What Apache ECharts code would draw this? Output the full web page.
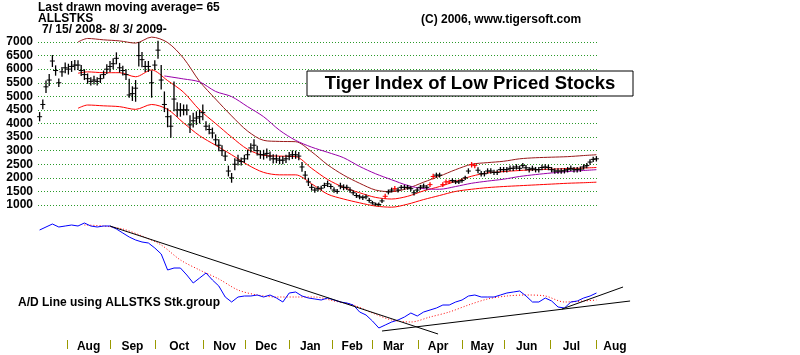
<!DOCTYPE html>
<html><head><meta charset="utf-8">
<script src="https://cdn.jsdelivr.net/npm/echarts@6/dist/echarts.min.js"></script>
<style>html,body{margin:0;padding:0;background:#fff;}#c{width:800px;height:355px;}</style>
</head><body><div id="c"></div>
<script>
// ---- data (bar index 0..174, ~1.5 trading days per bar, 7/15/2008 - 8/3/2009) ----
const priceHigh = [4420,4880,5580,5820,6520,6140,5660,6080,6250,6200,6300,6340,6330,6150,6000,5840,5700,5760,5700,5810,
5950,6180,6300,6400,6620,6230,6130,6000,5650,5370,5600,7000,6630,6300,6300,5950,6330,7050,6150,5180,
4560,4300,5550,4780,4750,4700,4700,4300,4400,4450,4500,4700,4080,3960,3850,3600,3420,3200,2980,2450,
2180,2720,2850,2750,2850,3030,3270,3420,3180,3000,3030,3080,2970,2870,2860,2800,2800,2850,2950,3010,
3000,2950,2580,2250,2000,1770,1650,1700,1710,1820,1900,1780,1650,1590,1820,1760,1750,1650,1540,1440,
1390,1360,1390,1260,1150,1090,1090,1230,1410,1570,1640,1700,1640,1740,1740,1740,1690,1550,1640,1740,
1790,1740,1840,2150,2190,2190,1840,1940,1930,1980,1930,1930,1980,2080,2350,2580,2550,2390,2250,2250,
2350,2350,2300,2300,2400,2400,2400,2450,2450,2500,2450,2550,2470,2400,2450,2400,2400,2480,2500,2480,
2400,2350,2350,2350,2360,2400,2450,2400,2400,2420,2500,2550,2680,2780,2800];
const priceLow = [4080,4520,5120,5380,6080,5760,5340,5720,5850,5800,5900,5960,5970,5750,5600,5460,5400,5440,5400,5490,
5650,5820,5900,6000,6180,5870,5770,5600,4950,4830,4800,6100,6070,5900,5900,4950,5970,6380,5250,4420,
3860,3480,4450,4250,4250,4300,4300,3650,3850,3950,4000,4120,3740,3600,3450,3200,2980,2800,2620,2050,
1820,2280,2450,2450,2550,2670,2930,2980,2820,2700,2670,2720,2630,2530,2540,2500,2500,2550,2650,2690,
2700,2650,2220,1950,1700,1530,1450,1500,1530,1620,1660,1580,1450,1410,1580,1540,1550,1450,1360,1260,
1210,1180,1210,1080,1010,970,950,1070,1230,1390,1460,1500,1460,1560,1560,1560,1510,1350,1460,1560,
1610,1560,1660,1950,2010,2010,1660,1760,1770,1820,1770,1770,1820,1920,2150,2380,2350,2170,2050,2050,
2150,2150,2100,2100,2200,2200,2200,2250,2250,2300,2250,2350,2270,2200,2250,2200,2200,2280,2300,2280,
2200,2150,2150,2150,2160,2200,2250,2200,2200,2220,2300,2350,2480,2580,2600];
const priceClose = [4250,4700,5350,5600,6300,5950,5500,5900,6050,6000,6100,6150,6150,5950,5800,5650,5550,5600,5550,5650,
5800,6000,6100,6200,6400,6050,5950,5800,5050,5100,5300,6500,6350,6100,6100,5500,6150,6700,5600,4700,
4250,3900,4900,4500,4500,4500,4500,3950,4100,4200,4250,4400,3900,3780,3650,3400,3200,3000,2800,2250,
2000,2500,2650,2600,2700,2850,3100,3200,3000,2850,2850,2900,2800,2700,2700,2650,2650,2700,2800,2850,
2850,2800,2400,2100,1850,1650,1550,1600,1620,1720,1780,1680,1550,1500,1700,1650,1650,1550,1450,1350,
1300,1270,1300,1170,1080,1030,1020,1150,1320,1480,1550,1600,1550,1650,1650,1650,1600,1450,1550,1650,
1700,1650,1750,2050,2100,2100,1750,1850,1850,1900,1850,1850,1900,2000,2250,2480,2450,2280,2150,2150,
2250,2250,2200,2200,2300,2300,2300,2350,2350,2400,2350,2450,2370,2300,2350,2300,2300,2380,2400,2380,
2300,2250,2250,2250,2260,2300,2350,2300,2300,2320,2400,2450,2580,2680,2700];
const redBars = [108,111,122,123,126,127,128,135,136];

const maIdx     = [12,15,20,25,30,35,40,45,50,55,60,65,70,75,80,85,90,95,100,105,110,115,120,125,130,135,140,145,150,155,160,165,170,174];
const ma21      = [5850,5900,5870,5870,5720,5970,5580,5150,4500,4000,3500,3050,2830,2800,2780,2350,1940,1650,1450,1280,1220,1320,1520,1680,1870,2060,2180,2230,2270,2300,2320,2340,2360,2380];
const bandUpper = [7000,7130,7080,7040,6960,7180,6980,6400,5550,4900,4280,3720,3380,3340,3330,2960,2480,2100,1800,1550,1490,1610,1840,2060,2300,2500,2560,2610,2700,2740,2760,2780,2820,2850];
const bandLower = [4560,4680,4650,4620,4520,4700,4520,4020,3550,3200,2850,2480,2200,2110,2110,1780,1400,1220,1080,960,920,1030,1200,1350,1500,1580,1640,1680,1710,1740,1770,1800,1820,1840];
const ma65Idx   = [39,45,50,55,60,65,70,75,80,85,90,95,100,105,110,115,120,125,130,135,140,145,150,155,160,165,170,174];
const ma65      = [5750,5640,5530,5180,4990,4620,4250,3750,3380,3130,2940,2740,2420,2150,1930,1720,1600,1580,1680,1800,1880,1950,2050,2120,2180,2230,2270,2300];

// A/D line (arbitrary units), one value every 2 bars
const adLine = [110,113,116,113,114,115,114,117,114,113,114,114,111,107,103,100,98,97,92,86,
70,72,72,65,57,62,67,60,54,43,38,43,44,44,45,43,45,42,38,47,
48,44,42,41,40,42,40,38,37,35,28,25,19,12,15,18,20,23,27,24,
28,30,32,35,35,38,40,44,45,43,43,43,45,47,48,49,44,38,38,42,
39,33,32,38,39,42,44,47];
const adMaIdx = [14,20,26,32,38,44,50,56,62,68,74,80,86,92,98,104,110,116,122,128,134,140,146,152,158,164,170,174];
const adMa    = [115,114,111,104,95,80,70,61,50,45,43,43,43,39,35,27,20,18,23,28,35,41,44,45,44,38,39,40];
const trendLines = [
  [[22,114],[124.5,6]],
  [[107,9],[184.5,39]],
  [[163.2,31],[182.3,53]]
];

const yTickMin = 1000, yTickMax = 7000, yTickStep = 500;
const monthTickIdx   = [8.56,22,36.06,51.06,64.2,77.9,91.4,103.9,118.2,132,145.1,159.5,173.9];
const monthLabelIdx  = [15.3,29,43.6,57.8,70.8,84.6,97.7,110.6,124.5,138.3,152.2,166.2,179.8];
const monthNames     = ['Aug','Sep','Oct','Nov','Dec','Jan','Feb','Mar','Apr','May','Jun','Jul','Aug'];

const FONT = '"Liberation Sans", Arial, sans-serif';
const chart = echarts.init(document.getElementById('c'), null, {renderer:'canvas'});
const redSet = new Set(redBars);

const lineSeries = (idx, vals, color, extra) => Object.assign({
  type:'line', xAxisIndex:0, yAxisIndex:0, showSymbol:false, smooth:0.3, clip:false,
  data: idx.map((x,i)=>[x, vals[i]]),
  lineStyle:{color, width:1}, itemStyle:{color}, z:3, silent:true
}, extra||{});

chart.setOption({
  animation:false,
  backgroundColor:'#fff',
  grid:[
    {left:38, width:560, top:42, height:163},
    {left:38, width:602, top:220, height:120}
  ],
  xAxis:[
    {gridIndex:0, type:'value', min:-0.5, max:174.5, show:false},
    {gridIndex:1, type:'value', min:-0.5, max:187.6,
     axisLine:{show:false}, splitLine:{show:false},
     axisTick:{show:true, customValues:monthTickIdx, length:9, lineStyle:{color:'#9a9a00', width:1}},
     axisLabel:{show:true, customValues:monthLabelIdx, margin:1,
       color:'#000', fontFamily:FONT, fontWeight:'bold', fontSize:12,
       formatter:(v)=>{ let k=monthLabelIdx.findIndex(m=>Math.abs(m-v)<0.01); return k>=0?monthNames[k]:''; }}
    }
  ],
  yAxis:[
    {gridIndex:0, type:'value', min:yTickMin, max:yTickMax, interval:yTickStep,
     axisLine:{show:false}, axisTick:{show:false},
     axisLabel:{color:'#000', fontFamily:FONT, fontWeight:'bold', fontSize:12, margin:5, formatter:(v)=>String(v)},
     splitLine:{show:true, lineStyle:{color:'#2a9a2a', width:1, type:[1,2]}}},
    {gridIndex:1, type:'value', min:0, max:120, show:false}
  ],
  graphic:[
    {type:'text', left:38, top:2, z:100, style:{text:'Last drawn moving average= 65', font:'bold 12px '+FONT, fill:'#000'}},
    {type:'text', left:38, top:13, z:100, style:{text:'ALLSTKS', font:'bold 12px '+FONT, fill:'#000'}},
    {type:'text', left:42, top:24, z:100, style:{text:'7/ 15/ 2008- 8/ 3/ 2009-', font:'bold 12px '+FONT, fill:'#000'}},
    {type:'text', left:421, top:14, z:100, style:{text:'(C) 2006, www.tigersoft.com', font:'bold 12px '+FONT, fill:'#000'}},
    {type:'rect', z:100, shape:{x:307, y:71, width:326, height:25}, style:{fill:'#fff', stroke:'#000', lineWidth:1}},
    {type:'text', z:101, x:470, y:84, style:{text:'Tiger Index of Low Priced Stocks', font:'bold 18.5px '+FONT, fill:'#000', align:'center', verticalAlign:'middle'}},
    {type:'text', left:18, top:297, z:100, style:{text:'A/D Line using ALLSTKS Stk.group', font:'bold 12px '+FONT, fill:'#000'}}
  ],
  series:[
    lineSeries(maIdx, bandUpper, '#9a1a1a'),
    lineSeries(maIdx, ma21, '#ff0000'),
    lineSeries(maIdx, bandLower, '#ff0000'),
    lineSeries(ma65Idx, ma65, '#9900aa'),
    {
      type:'custom', xAxisIndex:0, yAxisIndex:0, z:4, silent:true, clip:false,
      data: priceHigh.map((h,i)=>[i, h, priceLow[i], priceClose[i]]),
      renderItem:(params, api)=>{
        const i = api.value(0);
        const pH = api.coord([i, api.value(1)]);
        const pL = api.coord([i, api.value(2)]);
        const pC = api.coord([i, api.value(3)]);
        const col = redSet.has(i) ? '#ff0000' : '#000';
        return {type:'group', children:[
          {type:'line', shape:{x1:pH[0], y1:pH[1], x2:pL[0], y2:pL[1]}, style:{stroke:col, lineWidth:1.3}},
          {type:'line', shape:{x1:pC[0]-2.5, y1:pC[1], x2:pC[0]+2.5, y2:pC[1]}, style:{stroke:col, lineWidth:1}}
        ]};
      }
    },
    {type:'line', xAxisIndex:1, yAxisIndex:1, showSymbol:false, z:4, silent:true,
     data: adLine.map((v,k)=>[2*k, v]), lineStyle:{color:'#0000ff', width:1}},
    {type:'line', xAxisIndex:1, yAxisIndex:1, showSymbol:false, z:3, silent:true, smooth:0.3,
     data: adMaIdx.map((x,i)=>[x, adMa[i]]), lineStyle:{color:'#ff0000', width:1, type:[1,2]}},
    ...trendLines.map(seg=>({type:'line', xAxisIndex:1, yAxisIndex:1, showSymbol:false, z:5, silent:true,
       data:seg, lineStyle:{color:'#000', width:1}}))
  ]
});
</script></body></html>
